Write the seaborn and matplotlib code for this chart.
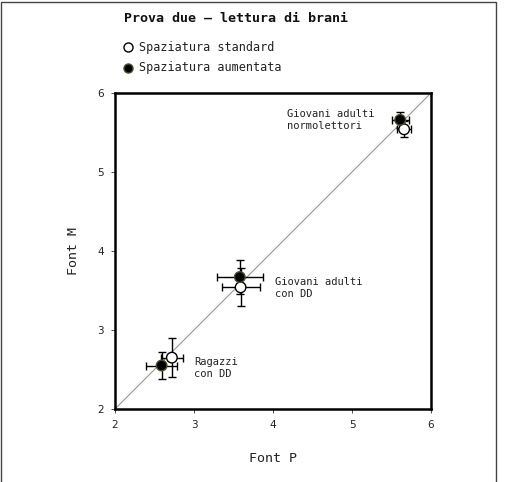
import pandas as pd
import seaborn as sns
import matplotlib.pyplot as plt
from matplotlib.patches import Rectangle

groups = ["Ragazzi\ncon DD", "Giovani adulti\ncon DD", "Giovani adulti\nnormolettori"]
conditions = ["Spaziatura standard", "Spaziatura aumentata"]

# font P (x) and font M (y) means, standard vs aumentata
std_p = [2.72, 3.59, 5.66]
std_m = [2.65, 3.54, 5.54]
aum_p = [2.59, 3.58, 5.61]
aum_m = [2.55, 3.67, 5.66]

# error bars
std_p_err = [0.14, 0.24, 0.09]
std_m_err = [0.25, 0.24, 0.10]
aum_p_err = [0.20, 0.29, 0.11]
aum_m_err = [0.17, 0.21, 0.10]

label_x = [3.0, 4.03, 4.18]
label_y = [2.52, 3.53, 5.66]

mono = "DejaVu Sans Mono"

df = pd.DataFrame({
    "Gruppo": groups * 2,
    "Condizione": [conditions[0]] * 3 + [conditions[1]] * 3,
    "P": std_p + aum_p,
    "M": std_m + aum_m,
    "Perr": std_p_err + aum_p_err,
    "Merr": std_m_err + aum_m_err,
})

sns.set_style("white")
fig = plt.figure(figsize=(5.12, 4.82), dpi=100)
ax = fig.add_axes([0.2246, 0.1515, 0.6172, 0.6556])

ax.plot([2, 6], [2, 6], color="#999999", lw=0.8, zorder=1)

for cond in conditions:
    d = df[df.Condizione == cond]
    ax.errorbar(d.P, d.M, xerr=d.Perr, yerr=d.Merr, fmt="none", ecolor="black",
                elinewidth=1, capsize=3, capthick=1, zorder=2)

sns.scatterplot(data=df, x="P", y="M", hue="Condizione", hue_order=conditions,
                palette={conditions[0]: "white", conditions[1]: "black"},
                s=58, edgecolor="black", linewidth=1, ax=ax, zorder=3, legend=False)
# olive edge on the filled markers
coll = ax.collections[-1]
ec = ["black"] * 3 + ["#4f4f22"] * 3
coll.set_edgecolors(ec)

for g, lx, ly in zip(groups, label_x, label_y):
    ax.text(lx, ly, g, family=mono, fontsize=7.5, va="center", ha="left", color="#222222")

ax.set_xlim(2, 6)
ax.set_ylim(2, 6)
ax.set_xticks([2, 3, 4, 5, 6])
ax.set_yticks([2, 3, 4, 5, 6])
ax.tick_params(axis="both", labelsize=7.5, colors="#333333", length=3, width=0.6,
               direction="out", bottom=True, left=True, pad=5)
ax.tick_params(axis="both", labelcolor="#222222")
for s in ax.spines.values():
    s.set_color("black")
    s.set_linewidth(1.8)
ax.set_xlabel("Font P", family=mono, fontsize=9.6, labelpad=16, color="#222222")
ax.set_ylabel("Font M", family=mono, fontsize=9.6, labelpad=12.5, color="#222222")

fig.text(124 / 512, 1 - 18 / 482, "Prova due \u2013 lettura di brani", family=mono,
         fontsize=9.6, fontweight="bold", va="center", ha="left", color="#111111")

# legend
leg_y = [47, 68]
fig.lines.append(plt.Line2D([128 / 512], [1 - leg_y[0] / 482], marker="o", ms=6.5,
                            mfc="white", mec="black", mew=1, transform=fig.transFigure))
fig.lines.append(plt.Line2D([128 / 512], [1 - leg_y[1] / 482], marker="o", ms=6.5,
                            mfc="black", mec="#4f4f22", mew=1, transform=fig.transFigure))
for cond, y in zip(conditions, leg_y):
    fig.text(139 / 512, 1 - y / 482, cond, family=mono, fontsize=8.5, va="center",
             ha="left", color="#222222")

# frame around the figure
fig.patches.append(Rectangle((1 / 512, -0.05), 495 / 512, 1.05 - 2 / 482, fill=False,
                             edgecolor="#444444", lw=1, transform=fig.transFigure))

fig.savefig("out.png", dpi=100)
